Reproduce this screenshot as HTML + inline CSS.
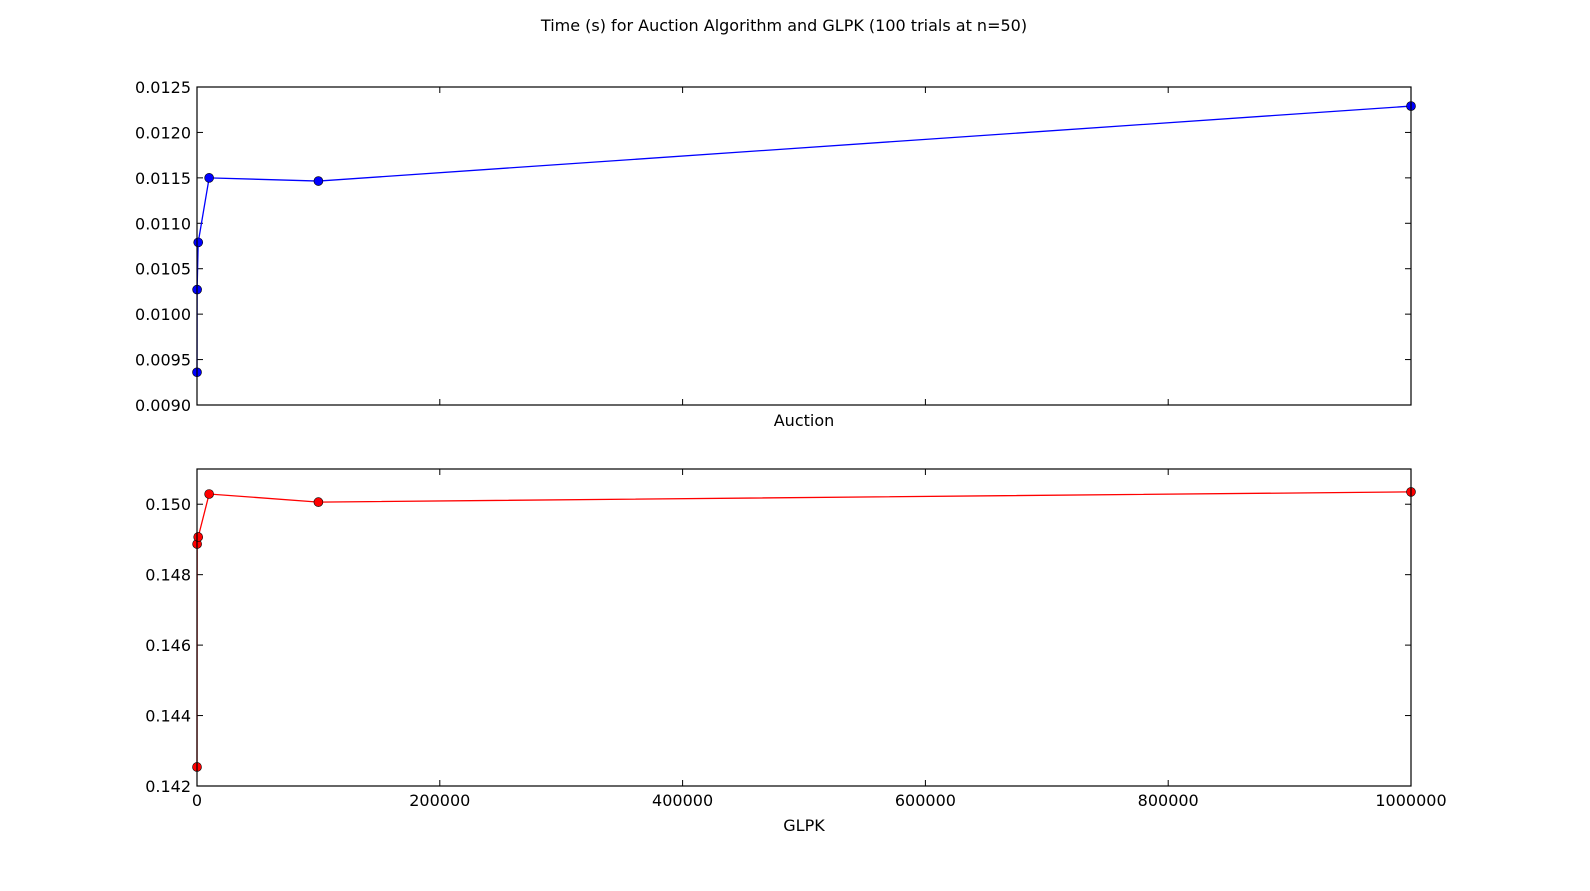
<!DOCTYPE html>
<html><head><meta charset="utf-8"><style>
body{margin:0;background:#fff;}
svg text{font-family:"DejaVu Sans","Liberation Sans",sans-serif;font-size:16px;fill:#000;}
</style></head><body>
<svg id="c" width="1590" height="886" xmlns="http://www.w3.org/2000/svg">
<rect width="1590" height="886" fill="#fff"/>
<text x="784" y="31" text-anchor="middle">Time (s) for Auction Algorithm and GLPK (100 trials at n=50)</text>
</svg>
<script>
const xValues=[10,100,1000,10000,100000,1000000];
const auctionTimes=[0.00936,0.01027,0.01079,0.0115,0.011465,0.01229];
const glpkTimes=[0.14254,0.14887,0.14907,0.15029,0.15006,0.15035];
const auctionTicks=["0.0090","0.0095","0.0100","0.0105","0.0110","0.0115","0.0120","0.0125"];
const glpkTicks=["0.142","0.144","0.146","0.148","0.150"];
const xTicks=["0","200000","400000","600000","800000","1000000"];

const svg=document.getElementById('c');
const NS='http://www.w3.org/2000/svg';
function mk(t,a,p){const e=document.createElementNS(NS,t);for(const k in a)e.setAttribute(k,a[k]);(p||svg).appendChild(e);return e;}
const L=197,R=1411;
const xs=v=>L+(v/1000000)*(R-L);

function panel(top,bot,ymin,ymax,tickVals,tickLabels,vals,color,xlabel,showX,name){
  const g=mk('g',{});
  
  
  const ys=v=>bot-(v-ymin)/(ymax-ymin)*(bot-top);
  tickVals.forEach((v,i)=>{
    const y=ys(v);
    mk('line',{x1:L,x2:L+6,y1:y,y2:y,stroke:'#000'},g);
    mk('line',{x1:R,x2:R-6,y1:y,y2:y,stroke:'#000'},g);
    const t=mk('text',{x:L-6,y:y+6,'text-anchor':'end'},g);
    t.textContent=tickLabels[i];
    
    
  });
  xTicks.forEach((s,i)=>{
    const x=xs(+s);
    mk('line',{x1:x,x2:x,y1:bot,y2:bot-6,stroke:'#000'},g);
    mk('line',{x1:x,x2:x,y1:top,y2:top+6,stroke:'#000'},g);
    if(showX){
      const t=mk('text',{x:x,y:bot+20,'text-anchor':'middle'},g);
      t.textContent=s;
      
      
    }
  });
  const pts=xValues.map((x,i)=>xs(x)+','+ys(vals[i])).join(' ');
  const line=mk('polyline',{points:pts,fill:'none',stroke:color,'stroke-width':1.3},g);
  
  
  xValues.forEach((x,i)=>{
    const c=mk('circle',{cx:xs(x),cy:ys(vals[i]),r:4.5,fill:color,stroke:'#000','stroke-width':0.6},g);
    
    
  });
  const f=mk('rect',{x:L,y:top,width:R-L,height:bot-top,fill:'none',stroke:'#000','stroke-width':1.2},g);
  
  
  const xl=mk('text',{x:804,y:showX?bot+45:bot+21,'text-anchor':'middle'},g);
  xl.textContent=xlabel;
  
  
}
panel(87,405,0.009,0.0125,auctionTicks.map(Number),auctionTicks,auctionTimes,'#0000ff','Auction',false,'auction');
panel(469,786,0.142,0.151,glpkTicks.map(Number),glpkTicks,glpkTimes,'#ff0000','GLPK',true,'glpk');
</script>
</body></html>
